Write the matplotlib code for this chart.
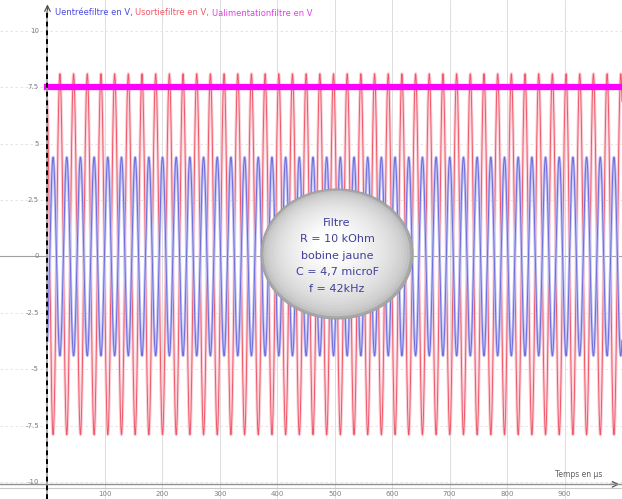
import numpy as np
import matplotlib.pyplot as plt
from matplotlib.patches import Ellipse

# acquisition settings and measured levels
freq_khz = 42.0          # f = 42kHz
duree_us = 1000.0
t_pic_us = 21.7          # first maximum of the output signal
amp_sortie = 8.0
offset_sortie = 0.1
amp_entree = 4.4
u_alim = 7.5

y_ticks = [10, 7.5, 5, 2.5, 0, -2.5, -5, -7.5, -10]
y_labels = ['10', '7.5', '5', '2.5', '0', '-2.5', '-5', '-7.5', '-10']
x_ticks = [100, 200, 300, 400, 500, 600, 700, 800, 900]

legende = [('Uentréefiltre en V, ', '#4a4ae0'),
           ('Usortiefiltre en V, ', '#f05a6a'),
           ('Ualimentationfiltre en V', '#e040e0')]
infos = ['Filtre', 'R = 10 kOhm', 'bobine jaune', 'C = 4,7 microF', 'f = 42kHz']

t = np.linspace(0, duree_us, 40001)
phase = 2 * np.pi * freq_khz * 1e-3 * (t - t_pic_us)
u_sortie = offset_sortie + amp_sortie * np.cos(phase)
u_entree = -amp_entree * np.cos(phase)

fig = plt.figure(figsize=(6.22, 4.99), dpi=100)
ax = fig.add_axes([0, 0, 1, 1])
ax.set_xlim(-82.6, 1000)
ax.set_ylim(-10.75, 11.37)
ax.axis('off')

# grid
for x in x_ticks:
    ax.axvline(x, color='#d8d8d8', lw=0.6, zorder=0)
for y in y_ticks:
    ax.axhline(y, color='#e0e0e0', lw=0.6, ls=(0, (3, 3)), zorder=0)
ax.axhline(0, color='#a0a0a0', lw=0.8, zorder=0)

# signals
ax.plot(t, u_sortie, color='#fad0d8', lw=2.2, zorder=2)
ax.plot(t, u_sortie, color='#f05868', lw=0.7, zorder=3)
ax.plot(t, u_entree, color='#c0c0f4', lw=2.0, zorder=4)
ax.plot(t, u_entree, color='#6c6cdc', lw=0.7, zorder=5)
ax.plot([0, duree_us], [u_alim, u_alim], color='#ff00ff', lw=4.5, zorder=6)

# axes
ax.plot([-82.6, 1000], [-10.1, -10.1], color='#909090', lw=1.0, zorder=7)
ax.plot([-82.6, 1000], [-10.25, -10.25], color='#c8c8c8', lw=0.8, zorder=7)
ax.plot([0, 0], [-10.75, 10.9], color='#a0a0a0', lw=1.2, zorder=7)
ax.plot([0, 0], [-10.75, 10.9], color='black', lw=1.4, ls=(0, (2.5, 2)), zorder=8)
ax.annotate('', xy=(0, 11.3), xytext=(0, 10.6),
            arrowprops=dict(arrowstyle='->', color='#505050', lw=0.9))
ax.annotate('', xy=(1000, -10.1), xytext=(975, -10.1),
            arrowprops=dict(arrowstyle='->', color='#505050', lw=0.9))

for y, lab in zip(y_ticks, y_labels):
    ax.text(-15, y, lab, ha='right', va='center', fontsize=5, color='#808080')
for x in x_ticks:
    ax.text(x, -10.55, str(x), ha='center', va='center', fontsize=5, color='#808080')
ax.text(965, -9.65, 'Temps en µs', ha='right', va='center', fontsize=5.5, color='#606060')

# legend line at the top, pieces placed one after the other
fig.canvas.draw()
renderer = fig.canvas.get_renderer()
xp = 55
for txt, col in legende:
    tt = fig.text(xp / 622, 1 - 13 / 499, txt, color=col, fontsize=6, va='center', ha='left')
    xp += tt.get_window_extent(renderer).width

# info bubble with a soft shading
cx, cy = 337 / 622, 1 - 254 / 499
w, h = 152 / 622, 130 / 499
nb = 24
for i in range(nb):
    k = 1 - 0.85 * i / nb
    g = 0.66 + 0.34 * (i / (nb - 1)) ** 0.4
    ax.add_patch(Ellipse((cx - (1 - k) * 0.014, cy + (1 - k) * 0.025), w * k, h * k,
                         transform=ax.transAxes, facecolor=(g, g, g), edgecolor='none',
                         zorder=10))
ax.add_patch(Ellipse((cx, cy), w, h, transform=ax.transAxes, facecolor='none',
                     edgecolor='#a0a0a0', lw=0.8, zorder=11))
for i, line in enumerate(infos):
    fig.text(cx, 1 - (223 + 16.5 * i) / 499, line, ha='center', va='center',
             fontsize=8, color='#404098', zorder=12)

fig.savefig('out.png', dpi=100)
